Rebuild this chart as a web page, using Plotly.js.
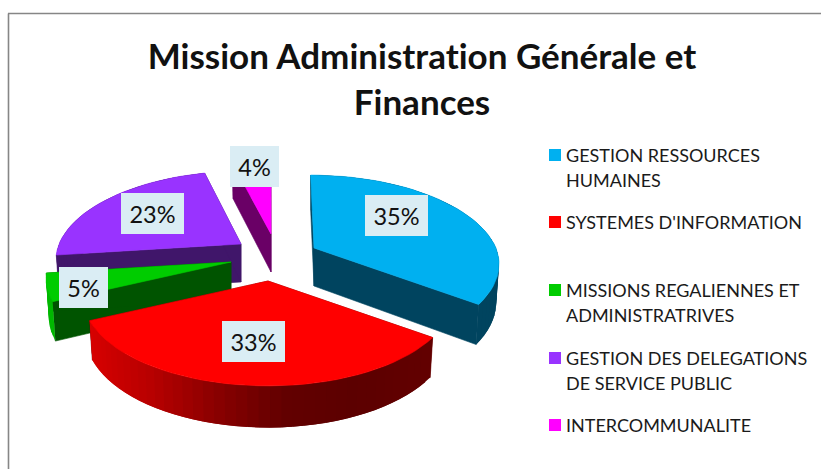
<!DOCTYPE html>
<html><head><meta charset="utf-8">
<script src="https://cdn.plot.ly/plotly-3.0.1.min.js"></script>
<style>html,body{margin:0;padding:0;background:#fff}#c{width:821px;height:469px}
text,tspan{font-variant-ligatures:none !important;font-feature-settings:"liga" 0,"clig" 0 !important;text-rendering:optimizeSpeed}</style>
</head><body><div id="c"></div>
<script>
// ---- data ----
const categories = ["GESTION RESSOURCES<br>HUMAINES","SYSTEMES D'INFORMATION","MISSIONS REGALIENNES ET<br>ADMINISTRATRIVES","GESTION DES DELEGATIONS<br>DE SERVICE PUBLIC","INTERCOMMUNALITE"];
const values = [35,33,5,23,4];
const colors = ["#00B0F0","#FF0000","#00CC00","#9933FF","#FF00FF"];
const titleText = "Mission Administration Générale et<br>Finances";

// ---- styling / layout ----
const wallColors = ["#00445F","#6A0000","#005400","#40166A","#6A0066"];
const rimColors = [["#00445F"],["#D80000","#B80000","#8A0000","#620000","#5C0000","#620000"],["#00B800"],["#40166A"],["#6A0066"]];
const apexX = [314,268,231,241,271], apexY = [248,281,262,244,234];
const drawOrder = [4,3,2,0,1];
const labelX = [396.5,253.5,83.5,152.5,254.5], labelY = [215.5,341.5,287.5,213.5,166.5], labelW = [63,63,49,63,49];
const legendSwatchY = [155,222,290,358,425];
const RX=182, RY=86, K=0.18, WALL=38, LINE=25;

const scale = Y => 1/(1+K*Y);
function rimPoint(i,deg){
  const t=deg*Math.PI/180, X=Math.sin(t), Y=Math.cos(t), s=scale(Y);
  return {x:apexX[i]+RX*X*s+0.5*(apexX[i]-270)*Math.min(s-1,0), y:apexY[i]-RY*Y*s, s};
}
const drop = (p,i)=>({x:apexX[i]+(p.x-apexX[i])*0.985, y:p.y+WALL*(1+(p.s-1)*0.45)});
function poly(pts,color,extra){
  return Object.assign({type:'scatter',mode:'lines',x:pts.map(p=>p.x),y:pts.map(p=>p.y),fill:'toself',fillcolor:color,
    line:{color:color,width:0.6},hoverinfo:'skip',showlegend:false},extra||{});
}
function mix(stops,f){
  if(stops.length===1) return stops[0];
  const v=Math.max(0,Math.min(0.9999,f))*(stops.length-1), i=Math.floor(v), u=v-i;
  const c=h=>[1,3,5].map(k=>parseInt(h.substr(k,2),16));
  const a=c(stops[i]), b=c(stops[i+1]);
  return 'rgb('+a.map((q,k)=>Math.round(q+(b[k]-q)*u)).join(',')+')';
}
const total = values.reduce((a,b)=>a+b,0);
let start=0; const ranges=values.map(v=>{const r=[start,start+v/total*360]; start=r[1]; return r;});
const traces=[];
drawOrder.forEach(i=>{
  const [a0,a1]=ranges[i], apex={x:apexX[i],y:apexY[i],s:1};
  const n=Math.max(3,Math.ceil((a1-a0)/3)), pts=[];
  for(let k=0;k<=n;k++) pts.push(rimPoint(i,a0+(a1-a0)*k/n));
  [pts[0],pts[n]].forEach(p=>traces.push(poly([apex,p,drop(p,i),drop(apex,i),apex],wallColors[i])));
  const xs=pts.map(p=>p.x), xmin=Math.min(...xs), xmax=Math.max(...xs);
  // rim is painted left to right in overlapping strips so that no seams show
  const order=[...Array(n).keys()].sort((u,v)=>(pts[u].x+pts[u+1].x)-(pts[v].x+pts[v+1].x));
  order.forEach(k=>{
    const p=pts[k], q=pts[k+1<=n?k+1:k], r=pts[Math.min(n,k+2)], f=((p.x+q.x)/2-xmin)/(xmax-xmin||1);
    const col=mix(rimColors[i],f);
    traces.push(poly([p,q,r,drop(r,i),drop(q,i),drop(p,i),p],col,{line:{color:col,width:0}}));
  });
  traces.push(poly([apex,...pts,apex],colors[i],{name:categories[i].replace('<br>',' ')}));
});

const annotations=values.map((v,i)=>({x:labelX[i],y:labelY[i],xref:'x',yref:'y',text:v+'%',showarrow:false,
  width:labelW[i],height:41,bgcolor:'#DAEDF4',borderpad:0,borderwidth:0,align:'center',valign:'middle',
  font:{family:'Lato, sans-serif',size:23.5,color:'#111111'}}));
const shapes=[
 {type:'line',xref:'x',yref:'y',x0:8.5,x1:8.5,y0:13.5,y1:469,line:{color:'#868686',width:1.6}},
 {type:'line',xref:'x',yref:'y',x0:8,x1:821,y0:13.5,y1:13.5,line:{color:'#868686',width:1.6}}];
categories.forEach((c,i)=>{
  shapes.push({type:'rect',xref:'x',yref:'y',x0:549,x1:561,y0:legendSwatchY[i]-6,y1:legendSwatchY[i]+6,fillcolor:colors[i],line:{width:0}});
  c.split('<br>').forEach((t,j)=>annotations.push({x:566,y:legendSwatchY[i]+j*LINE,xref:'x',yref:'y',text:t,showarrow:false,
    xanchor:'left',yanchor:'middle',borderpad:0,borderwidth:0,font:{family:'Lato, sans-serif',size:18,color:'#1a1a1a'}}));
});
const layout={width:821,height:469,margin:{l:0,r:0,t:0,b:0,pad:0},paper_bgcolor:'#fff',plot_bgcolor:'#fff',showlegend:false,
  title:{text:titleText,x:422/821,xanchor:'center',y:0.852,yanchor:'top',font:{family:'Lato, sans-serif',size:35,color:'#111',weight:700}},
  xaxis:{range:[0,821],visible:false,fixedrange:true},yaxis:{range:[469,0],visible:false,fixedrange:true},
  shapes,annotations};
Plotly.newPlot('c',traces,layout,{displayModeBar:false,staticPlot:true});
</script></body></html>
